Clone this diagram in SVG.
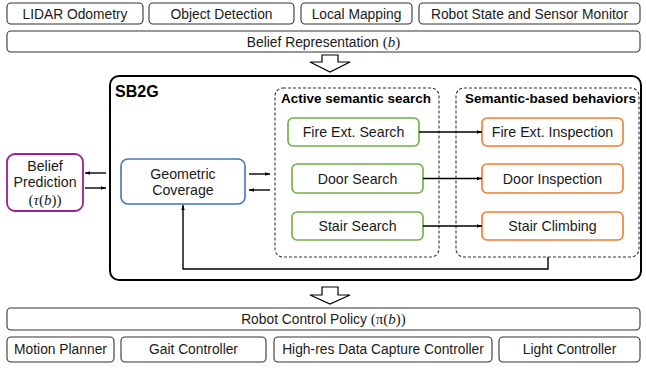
<svg xmlns="http://www.w3.org/2000/svg" width="646" height="371" viewBox="0 0 646 371">
<style>
text{font-family:"Liberation Sans",Arial,sans-serif;font-size:13.8px;fill:#1a1a1a;text-anchor:middle}
.mid{font-size:14.2px}
.m{font-family:"Liberation Serif","Times New Roman",serif;font-size:15px}
.mi{font-family:"Liberation Serif","Times New Roman",serif;font-style:italic;font-size:15px}
.plain{fill:#fff;stroke:#333;stroke-width:1.1}
.green{fill:#fff;stroke:#70AD47;stroke-width:1.6}
.orange{fill:#fff;stroke:#ED7D31;stroke-width:1.6}
.blue{fill:#fff;stroke:#4472C4;stroke-width:1.6}
.purple{fill:#fff;stroke:#9B1F96;stroke-width:1.8}
.dash{fill:none;stroke:#333;stroke-width:1.1;stroke-dasharray:3 2}
.title{font-weight:bold;font-size:13.5px;text-anchor:start;fill:#000}
.conn{fill:none;stroke:#000;stroke-width:1.4}
.hollow{fill:#fff;stroke:#000;stroke-width:1.2}
</style>
<defs>
<marker id="ah" viewBox="0 0 10 10" refX="10" refY="5" markerWidth="5" markerHeight="5" orient="auto" markerUnits="userSpaceOnUse">
<path d="M0,1.5 L10,5 L0,8.5 z" fill="#000"/>
</marker>
</defs>

<g id="lidar"><rect class="plain" x="7" y="3" width="136" height="21" rx="4"/><text x="75" y="18.5">LIDAR Odometry</text></g>
<g id="objdet"><rect class="plain" x="149" y="3" width="145" height="21" rx="4"/><text x="221.5" y="18.5">Object Detection</text></g>
<g id="localmap"><rect class="plain" x="301" y="3" width="111" height="21" rx="4"/><text x="356.5" y="18.5">Local Mapping</text></g>
<g id="robotstate"><rect class="plain" x="419" y="3" width="221" height="21" rx="4"/><text x="529.5" y="18.5">Robot State and Sensor Monitor</text></g>
<g id="belief"><rect class="plain" x="7" y="31" width="633" height="21" rx="4"/><text x="323.5" y="46.5">Belief Representation <tspan class="m">(</tspan><tspan class="mi">b</tspan><tspan class="m">)</tspan></text></g>

<g id="arrow1"><path class="hollow" d="M322,55 H338 V62 H350 L330,72 L310,62 H322 Z"/></g>

<g id="sb2g"><rect x="110" y="76" width="531" height="204" rx="9" fill="none" stroke="#000" stroke-width="2"/><text x="115" y="97" style="font-weight:bold;font-size:16px;text-anchor:start;fill:#000">SB2G</text></g>

<g id="active"><rect class="dash" x="275" y="88" width="164" height="169" rx="8"/><text class="title" x="281" y="103">Active semantic search</text></g>
<g id="behaviors"><rect class="dash" x="456" y="88" width="183" height="169" rx="8"/><text class="title" x="465" y="103">Semantic-based behaviors</text></g>

<g id="beliefpred"><rect class="purple" x="7" y="154" width="76" height="57" rx="8"/><text class="mid" x="45" y="171">Belief</text><text class="mid" x="45" y="187">Prediction</text><text x="45" y="205"><tspan class="m">(</tspan><tspan class="mi">τ</tspan><tspan class="m">(</tspan><tspan class="mi">b</tspan><tspan class="m">))</tspan></text></g>
<g id="geocov"><rect class="blue" x="121" y="159" width="124" height="45" rx="7"/><text class="mid" x="183" y="179">Geometric</text><text class="mid" x="183" y="195">Coverage</text></g>

<g id="firesearch"><rect class="green" x="288" y="118" width="131" height="28" rx="5"/><text class="mid" x="353.5" y="137">Fire Ext. Search</text></g>
<g id="doorsearch"><rect class="green" x="292" y="164" width="131" height="29" rx="5"/><text class="mid" x="357.5" y="183.5">Door Search</text></g>
<g id="stairsearch"><rect class="green" x="292" y="212" width="131" height="28" rx="5"/><text class="mid" x="357.5" y="231">Stair Search</text></g>
<g id="fireinsp"><rect class="orange" x="482" y="118" width="141" height="28" rx="5"/><text class="mid" x="552.5" y="137">Fire Ext. Inspection</text></g>
<g id="doorinsp"><rect class="orange" x="482" y="164" width="141" height="29" rx="5"/><text class="mid" x="552.5" y="183.5">Door Inspection</text></g>
<g id="stairclimb"><rect class="orange" x="482" y="212" width="141" height="28" rx="5"/><text class="mid" x="552.5" y="231">Stair Climbing</text></g>

<g id="arrow2"><path class="hollow" d="M322,287 H338 V295 H350 L330,304 L310,295 H322 Z"/></g>

<g id="policy"><rect class="plain" x="7" y="308" width="633" height="22" rx="4"/><text x="323.5" y="324">Robot Control Policy <tspan class="m">(π(</tspan><tspan class="mi">b</tspan><tspan class="m">))</tspan></text></g>
<g id="motion"><rect class="plain" x="7" y="337" width="107" height="25" rx="4"/><text x="60.5" y="354">Motion Planner</text></g>
<g id="gait"><rect class="plain" x="121" y="337" width="145" height="25" rx="4"/><text x="193.5" y="354">Gait Controller</text></g>
<g id="highres"><rect class="plain" x="274" y="337" width="218" height="25" rx="4"/><text x="383" y="354">High-res Data Capture Controller</text></g>
<g id="light"><rect class="plain" x="499" y="337" width="141" height="25" rx="4"/><text x="569.5" y="354">Light Controller</text></g>

<g id="connectors">
<line class="conn" x1="106" y1="173" x2="85" y2="173" marker-end="url(#ah)"/>
<line class="conn" x1="85" y1="188" x2="106" y2="188" marker-end="url(#ah)"/>
<line class="conn" x1="249" y1="174" x2="270" y2="174" marker-end="url(#ah)"/>
<line class="conn" x1="270" y1="190" x2="249" y2="190" marker-end="url(#ah)"/>
<line class="conn" x1="419" y1="132" x2="482" y2="132" marker-end="url(#ah)"/>
<line class="conn" x1="423" y1="178.5" x2="482" y2="178.5" marker-end="url(#ah)"/>
<line class="conn" x1="423" y1="226" x2="482" y2="226" marker-end="url(#ah)"/>
<path class="conn" d="M548,257 V269 H183 V205" marker-end="url(#ah)"/>
</g>
</svg>
